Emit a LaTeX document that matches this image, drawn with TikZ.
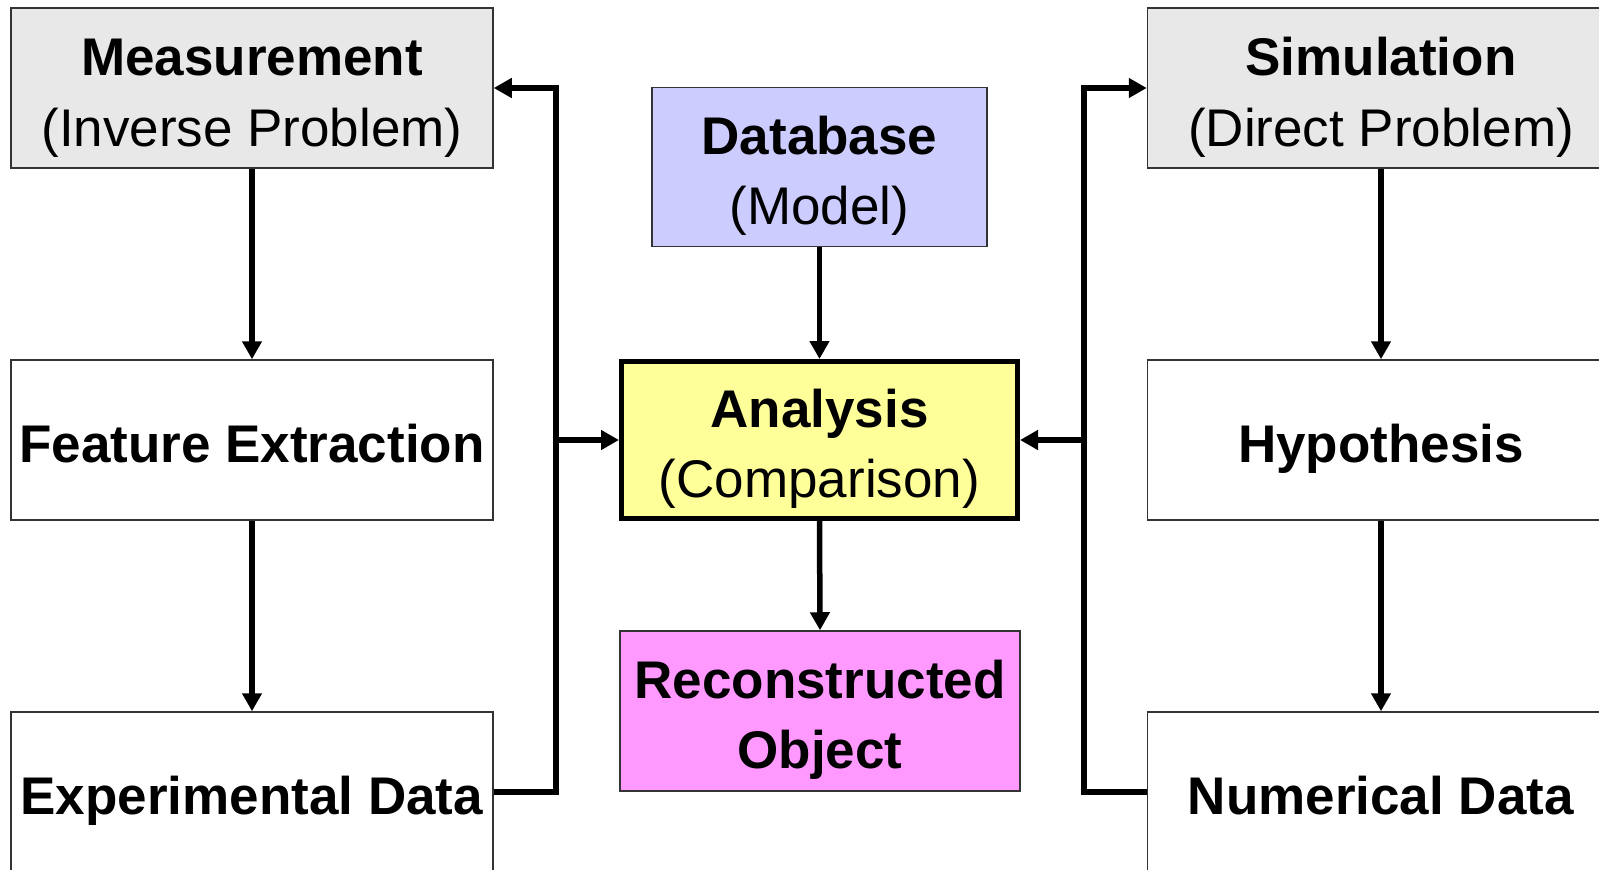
\documentclass[tikz,border=0pt]{standalone}
\usepackage{fontspec}
\setmainfont{Liberation Sans}
\usetikzlibrary{arrows.meta}
\definecolor{boxgray}{HTML}{E8E8E8}
\definecolor{dbblue}{HTML}{CCCCFF}
\definecolor{anyellow}{HTML}{FFFF99}
\definecolor{recpink}{HTML}{FF99FF}
% uniform line strut so every text line sits at the same height
\newcommand\linestrut{\rule[-12pt]{0pt}{69pt}}
\begin{document}
\begin{tikzpicture}[x=1pt,y=-1pt,
  box/.style={draw=black!80, line width=1.5pt, align=center, inner sep=0pt,
    font=\fontsize{53}{71}\selectfont},
  sidebox/.style={box, minimum width=482pt, minimum height=160pt},
  rightbox/.style={box, minimum width=467pt, minimum height=160pt},
  conn/.style={line width=5.5pt, line join=miter, draw=black,
    -{Triangle[length=18pt,width=19pt]}}]
\useasboundingbox (0,0) rectangle (1599,870);
\clip (0,0) rectangle (1599,870);
\fill[white] (0,0) rectangle (1599,870);

% inverse-problem column
\node[sidebox, fill=boxgray] (meas) at (252,88) {\linestrut\textbf{Measurement}\\\linestrut(Inverse Problem)};
\node[sidebox, fill=white] (feat) at (252,440) {\linestrut\textbf{Feature Extraction}};
\node[sidebox, fill=white] (exp) at (252,792) {\linestrut\textbf{Experimental Data}};

% centre column
\node[box, fill=dbblue, minimum width=335pt, minimum height=159pt, font=\fontsize{53}{70}\selectfont] (db) at (819.5,167) {\linestrut\textbf{Database}\\\linestrut(Model)};
\node[box, fill=anyellow, draw=black, line width=5pt, minimum width=396pt, minimum height=157pt, font=\fontsize{53}{70}\selectfont] (anal) at (819.5,440) {\linestrut\textbf{Analysis}\\\linestrut(Comparison)};
\node[box, fill=recpink, minimum width=400pt, minimum height=160pt, font=\fontsize{53}{70}\selectfont] (rec) at (820,711) {\linestrut\textbf{Reconstructed}\\\linestrut\textbf{Object}};

% direct-problem column
\node[rightbox, fill=boxgray] (sim) at (1381,88) {\linestrut\textbf{Simulation}\\\linestrut(Direct Problem)};
\node[rightbox, fill=white] (hyp) at (1381,440) {\linestrut\textbf{Hypothesis}};
\node[rightbox, fill=white] (num) at (1381,792) {\linestrut\textbf{Numerical Data}};

% bus junctions
\coordinate (lbus) at (556,440);
\coordinate (rbus) at (1084,440);

% vertical flows
\draw[conn] (meas.south) -- (feat.north);
\draw[conn] (feat.south) -- (exp.north);
\draw[conn] (sim.south) -- (hyp.north);
\draw[conn] (hyp.south) -- (num.north);
\draw[conn] (db.south) -- (anal.north);
\draw[conn] (anal.south) -- (rec.north);

% feedback loops
\draw[conn] (exp.east) -| (lbus) |- (meas.east);
\draw[conn] (num.west) -| (rbus) |- (sim.west);
\draw[conn] (lbus) -- (anal.west);
\draw[conn] (rbus) -- (anal.east);
\end{tikzpicture}
\end{document}
